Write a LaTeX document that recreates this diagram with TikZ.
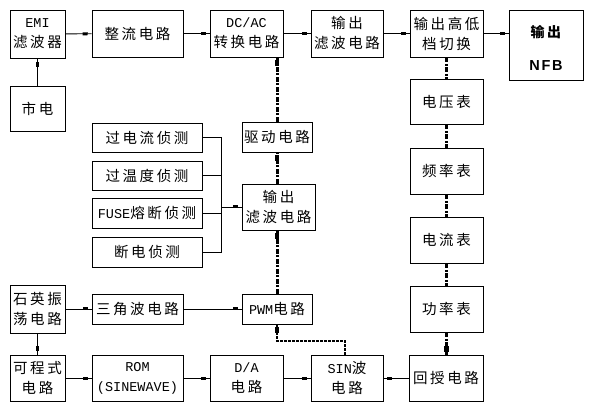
\documentclass[tikz,border=0pt]{standalone}
\usepackage{fontspec}
\setmainfont{Noto Sans CJK SC}[LetterSpace=18]
\newfontfamily\lat{Liberation Mono}
\newfontfamily\sansfam{Liberation Sans}[LetterSpace=12]
\usetikzlibrary{decorations.markings}
\newcommand\LT[1]{{\lat\fontsize{13.5pt}{20pt}\selectfont #1}}
\tikzset{
  box/.style={draw, line width=0.9pt, inner sep=0pt, align=center,
    font={\fontsize{14.5pt}{20pt}\selectfont}},
  conn/.style={line width=0.9pt},
  arr/.style={conn, postaction={decorate}, decoration={markings,
    mark=at position -6.5pt with {\fill (-2.5pt,-1.5pt) rectangle (2.5pt,1.5pt);}}},
  dchain/.style={line width=3pt, dash pattern=on 5pt off 1.5pt on 2pt off 1.5pt},
  dotln/.style={line width=2.5pt, dash pattern=on 3pt off 1pt},
  tarr/.style={postaction={decorate}, decoration={markings,
    mark=at position -5.5pt with {\fill (-3pt,-2.2pt) rectangle (3pt,2.2pt);}}},
}
\begin{document}
\begin{tikzpicture}[x=1pt,y=-1pt]
\useasboundingbox (0,0) rectangle (590,417);
% top row
\node[box, minimum width=55pt, minimum height=48pt] (emi) at (37.5,34) {\LT{EMI}\\滤波器};
\node[box, minimum width=55pt, minimum height=45pt] (shi) at (37.5,108.5) {市电};
\node[box, minimum width=91pt, minimum height=47pt] (zl) at (137.5,33.5) {整流电路};
\node[box, minimum width=73pt, minimum height=47pt] (dcac) at (246.5,33.5) {\LT{DC/AC}\\转换电路};
\node[box, minimum width=72pt, minimum height=47pt] (lbA) at (347,33.5) {输出\\滤波电路};
\node[box, minimum width=73pt, minimum height=47pt] (qh) at (446.5,33.5) {输出高低\\档切换};
\node[box, minimum width=74pt, minimum height=70pt, font={\fontsize{14pt}{33pt}\selectfont}] (nfb) at (546,45) {\rule{0pt}{18pt}\bfseries 输出\\{\sansfam\bfseries\fontsize{14.5pt}{33pt}\selectfont NFB}};
% right chain
\node[box, minimum width=73pt, minimum height=45pt] (dyb) at (446.5,101.5) {电压表};
\node[box, minimum width=73pt, minimum height=46pt] (plb) at (446.5,171) {频率表};
\node[box, minimum width=73pt, minimum height=46pt] (dlb) at (446.5,240) {电流表};
\node[box, minimum width=73pt, minimum height=46pt] (glb) at (446.5,309) {功率表};
% bottom row
\node[box, minimum width=74pt, minimum height=46pt] (hs) at (446,378) {回授电路};
\node[box, minimum width=72pt, minimum height=46pt] (sin) at (347,378) {\LT{SIN}波\\电路};
\node[box, minimum width=73pt, minimum height=46pt] (da) at (246.5,378) {\LT{D/A}\\电路};
\node[box, minimum width=91pt, minimum height=46pt] (rom) at (137.5,378) {\LT{ROM}\\\LT{(SINEWAVE)}};
\node[box, minimum width=55pt, minimum height=46pt] (kcs) at (37.5,378) {可程式\\电路};
% oscillator row
\node[box, minimum width=55pt, minimum height=48pt] (sy) at (37.5,309) {石英振\\荡电路};
\node[box, minimum width=91pt, minimum height=30pt] (sjb) at (137.5,309) {三角波电路};
\node[box, minimum width=70pt, minimum height=30pt] (pwm) at (277,309) {\LT{PWM}电路};
% middle column
\node[box, minimum width=70pt, minimum height=30pt] (qd) at (277,137) {驱动电路};
\node[box, minimum width=73pt, minimum height=46pt] (lbB) at (278.5,207) {输出\\滤波电路};
% detectors
\node[box, minimum width=110pt, minimum height=29pt] (gdl) at (147,137.5) {过电流侦测};
\node[box, minimum width=110pt, minimum height=29pt] (gwd) at (147,175.5) {过温度侦测};
\node[box, minimum width=110pt, minimum height=30pt] (fuse) at (147,213) {\LT{FUSE}熔断侦测};
\node[box, minimum width=110pt, minimum height=30pt] (dd) at (147,252) {断电侦测};
\coordinate (bus) at (221,207);
% connectors
\draw[arr] (emi) -- (zl);
\draw[arr] (shi) -- (emi);
\draw[arr] (zl) -- (dcac);
\draw[arr] (dcac) -- (lbA);
\draw[arr] (lbA) -- (qh);
\draw[arr] (qh.east) -- (qh.east -| nfb.west);
\draw[dchain] (qh) -- (dyb);
\draw[dchain] (dyb) -- (plb);
\draw[dchain] (plb) -- (dlb);
\draw[dchain] (dlb) -- (glb);
\draw[dchain, tarr] (glb) -- (hs.north -| glb);
\draw[arr] (hs) -- (sin);
\draw[arr] (da) -- (sin);
\draw[arr] (rom) -- (da);
\draw[arr] (kcs) -- (rom);
\draw[arr] (sy) -- (kcs);
\draw[arr] (sy.east |- sjb.west) -- (sjb.west);
\draw[arr] (sjb) -- (pwm);
\draw[dotln, tarr] ([xshift=-2pt]sin.north) |- ([yshift=-16.5pt]pwm.south) -- (pwm.south);
\draw[dchain, tarr] (pwm.north) -- (pwm.north |- lbB.south);
\draw[dchain, tarr] (lbB.north -| qd) -- (qd.south);
\draw[dchain, tarr] (qd.north) -- (qd.north |- dcac.south);
\draw[conn] (gdl.east) -| (bus);
\draw[conn] (gwd.east) -| (bus);
\draw[conn] (fuse.east) -| (bus);
\draw[conn] (dd.east) -| (bus);
\draw[arr] (bus) -- (lbB.west);
\end{tikzpicture}
\end{document}
